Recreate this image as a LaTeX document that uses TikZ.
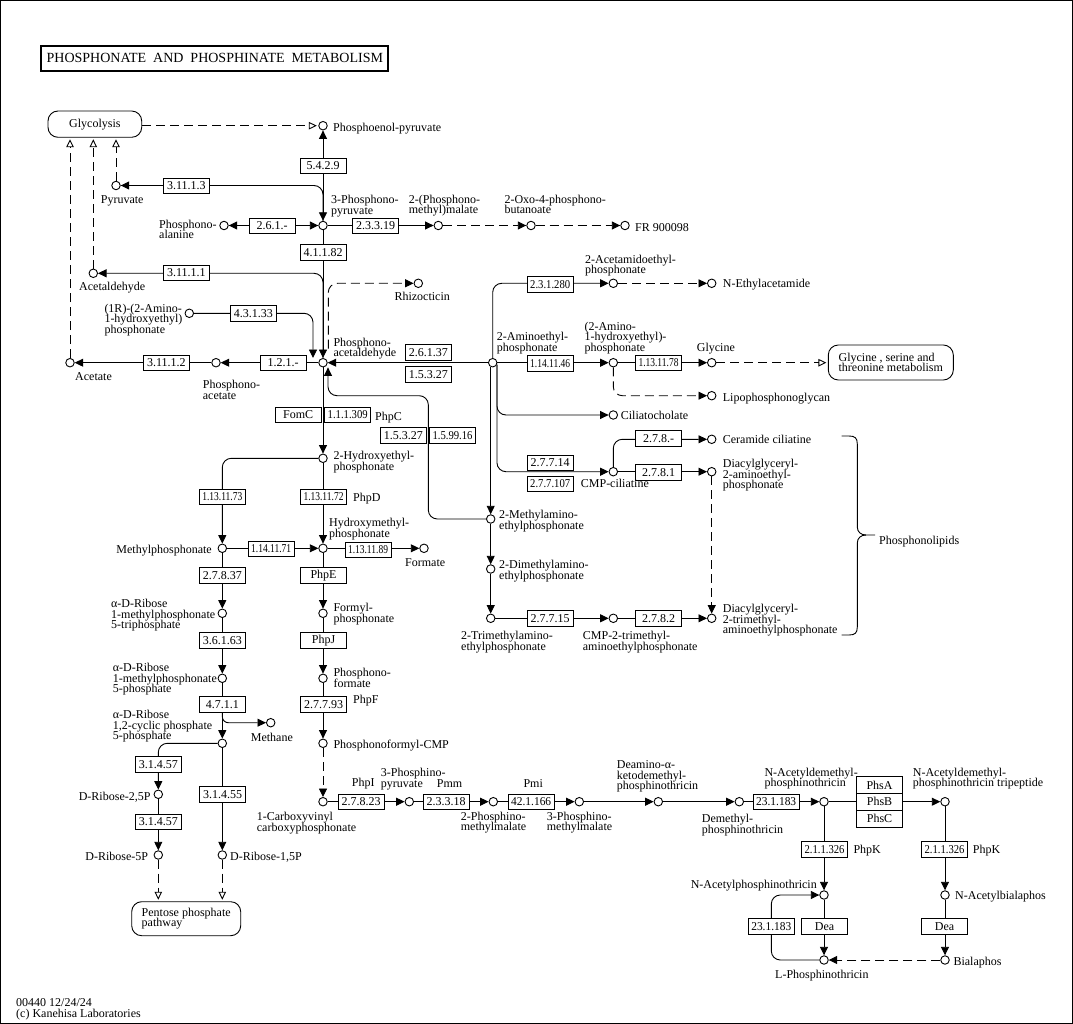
\documentclass[tikz,border=0pt]{standalone}
\usepackage{fontspec}
\setmainfont{Liberation Serif}
\usepackage{graphicx}
\usetikzlibrary{arrows.meta,calc}
\pgfdeclarelayer{bg}
\pgfsetlayers{bg,main}
\newsavebox\ecbx
\newlength\echt
\newcommand\ecx[1]{\sbox\ecbx{#1}\setlength\echt{\ht\ecbx}\ifdim\wd\ecbx>40pt\resizebox{40pt}{\echt}{#1}\else\usebox\ecbx\fi}
\newcommand\lfont{\fontsize{12}{10.5}\selectfont\lineskiplimit=-6pt\lineskip=0pt}
\tikzset{
 cpd/.style={circle,draw,line width=0.9pt,minimum size=8.5pt,inner sep=0pt,fill=white},
 ecbox/.style={draw,line width=0.8pt,minimum width=46pt,minimum height=15.5pt,inner sep=0pt,fill=white,font=\fontsize{12}{12}\selectfont},
 ln/.style={line width=0.9pt},
 arr/.style={ln,-{Triangle[length=8.5pt,width=8pt]}},
 arrb/.style={ln,{Triangle[length=8.5pt,width=8pt]}-{Triangle[length=8.5pt,width=8pt]}},
 oarr/.style={ln,-{Triangle[open,length=8pt,width=7.5pt]},shorten >=1.5pt},
 dsh/.style={dash pattern=on 9pt off 5pt},
 rc/.style={rounded corners=9pt},
 lab/.style={inner sep=0pt,align=left,anchor=north west,font=\lfont},
 labr/.style={inner sep=0pt,align=right,anchor=north east,font=\lfont},
 mapbox/.style={draw,line width=0.9pt,rounded corners=10pt,inner sep=0pt,font=\lfont,align=left},
}
\newcount\labn
\newcommand\lab[3]{\global\advance\labn by 1\relax\node[lab] (lab\the\labn) at (#1,{#2-9}) {\rule{0pt}{9pt}#3};}
\newcommand\labr[3]{\global\advance\labn by 1\relax\node[labr] (lab\the\labn) at (#1,{#2-9}) {\rule{0pt}{9pt}#3};}
\newcommand\cpd[3]{\node[cpd] (#1) at (#2,#3) {};}
\newcommand\ec[4]{\node[ecbox] (#1) at (#2,#3) {\ecx{#4}};}
\begin{document}
\begin{tikzpicture}[x=1pt,y=-1pt]
\useasboundingbox (0,0) rectangle (1073,1024);
\draw[line width=1.3pt] (0.65,0.65) rectangle (1072.3,1023.35);
\node[draw,line width=2pt,minimum width=347pt,minimum height=24.5pt,inner sep=0pt,font=\fontsize{14}{14}\selectfont] (title) at (214.85,58.35) {PHOSPHONATE\ \ AND\ \ PHOSPHINATE\ \ METABOLISM};
% map boxes
\node[mapbox,minimum width=93.7pt,minimum height=26.3pt,align=center] (glyc) at (94.85,124.15) {Glycolysis};
\node[mapbox,minimum width=125pt,minimum height=35pt] (gsm) at (890.8,362.5) {Glycine , serine and\\threonine metabolism};
\node[mapbox,minimum width=109pt,minimum height=34pt] (ppp) at (186.2,918.7) {Pentose phosphate\\pathway};
% compounds
\cpd{pep}{323}{125.7}
\cpd{pyr}{116}{185.5}
\cpd{pp3}{323}{225.5}
\cpd{pala}{224}{225.5}
\cpd{pmm}{438.3}{225.5}
\cpd{opb}{531}{225.5}
\cpd{fr}{625}{225.5}
\cpd{acald}{93.3}{273.3}
\cpd{ahp}{189.3}{313.3}
\cpd{paa}{323}{362.7}
\cpd{pac}{216}{362.7}
\cpd{acet}{70}{362.7}
\cpd{rhiz}{418.3}{283.3}
\cpd{aep}{492.7}{362.7}
\cpd{acam}{613.3}{283.3}
\cpd{neth}{711.7}{283.3}
\cpd{ahep}{613.3}{362.7}
\cpd{gly}{711.7}{362.7}
\cpd{lipo}{711.7}{395.7}
\cpd{cilc}{613.3}{415}
\cpd{cmpc}{613.3}{471.7}
\cpd{cerc}{711.7}{439.3}
\cpd{dagae}{711.7}{471.7}
\cpd{dagtm}{711.7}{618.3}
\cpd{mae}{490.7}{519}
\cpd{dmae}{490.7}{569}
\cpd{tmae}{490.7}{618.3}
\cpd{cmptm}{613.3}{618.3}
\cpd{hep}{323}{458.3}
\cpd{mp}{222.3}{548.3}
\cpd{hmp}{323}{548.3}
\cpd{form}{424}{548.3}
\cpd{rtp}{222.3}{613.3}
\cpd{rmp}{222.3}{678.3}
\cpd{rcp}{222.3}{743.3}
\cpd{meth}{270.7}{722.7}
\cpd{rtwo}{158.3}{794.3}
\cpd{rfive}{158.3}{855}
\cpd{rone}{222.3}{855}
\cpd{fp}{323}{613.3}
\cpd{pf}{323}{678.3}
\cpd{pfc}{323}{743.3}
\cpd{ccp}{323}{801.7}
\cpd{ppy}{409.3}{801.7}
\cpd{ptwo}{493.3}{801.7}
\cpd{pthree}{579.3}{801.7}
\cpd{dak}{658.3}{801.7}
\cpd{dpt}{739.3}{801.7}
\cpd{nadpt}{824}{801.7}
\cpd{nadtp}{945}{801.7}
\cpd{napt}{824}{895}
\cpd{nab}{945}{895}
\cpd{lpt}{824}{960}
\cpd{bial}{945}{960}
% enzymes
\ec{e5429}{323}{165.8}{5.4.2.9}
\ec{e31113}{186.3}{185.8}{3.11.1.3}
\ec{e261}{272.2}{225.7}{2.6.1.-}
\ec{e23319}{375.5}{225.8}{2.3.3.19}
\ec{e41182}{323}{252.5}{4.1.1.82}
\ec{e31111}{186.3}{273}{3.11.1.1}
\ec{e43133}{253.3}{313.5}{4.3.1.33}
\ec{e121}{283}{362.8}{1.2.1.-}
\ec{e31112}{166.3}{362.7}{3.11.1.2}
\ec{e26137}{428.3}{352.5}{2.6.1.37}
\ec{e15327a}{428.3}{374.2}{1.5.3.27}
\ec{e231280}{550.2}{284.2}{2.3.1.280}
\ec{e1141146}{550.2}{363.3}{1.14.11.46}
\ec{e1131178}{658.5}{362.7}{1.13.11.78}
\ec{e278x}{658.5}{438.3}{2.7.8.-}
\ec{e2781}{658.5}{472.5}{2.7.8.1}
\ec{e27714}{550.2}{463}{2.7.7.14}
\ec{e277107}{550.2}{483.7}{2.7.7.107}
\ec{e15327b}{403.3}{435.5}{1.5.3.27}
\ec{e159916}{452.5}{435.5}{1.5.99.16}
\ec{efomc}{298.2}{415}{FomC}
\ec{e111309}{347.7}{415}{1.1.1.309}
\ec{e1131173}{222.3}{497}{1.13.11.73}
\ec{e1131172}{323.5}{497}{1.13.11.72}
\ec{e1141171}{271.2}{548.7}{1.14.11.71}
\ec{e1131189}{368}{550}{1.13.11.89}
\ec{e27837}{222.3}{575.5}{2.7.8.37}
\ec{ephpe}{323.5}{575.5}{PhpE}
\ec{e36163}{222.3}{640.5}{3.6.1.63}
\ec{ephpj}{323.5}{640.5}{PhpJ}
\ec{e4711}{222.3}{704.5}{4.7.1.1}
\ec{e27793}{323.5}{704.5}{2.7.7.93}
\ec{e31457a}{158.3}{764.2}{3.1.4.57}
\ec{e31455}{222.7}{794.5}{3.1.4.55}
\ec{e31457b}{158.3}{822}{3.1.4.57}
\ec{e27823}{361}{802}{2.7.8.23}
\ec{e23318}{446.2}{802}{2.3.3.18}
\ec{e421166}{531.2}{802}{42.1.166}
\ec{e231183a}{776.2}{802}{23.1.183}
\ec{e211326a}{824.5}{849.5}{2.1.1.326}
\ec{e211326b}{944.5}{849.5}{2.1.1.326}
\ec{edeaa}{824.5}{926.2}{Dea}
\ec{edeab}{944.5}{926.2}{Dea}
\ec{e231183b}{771.3}{926.2}{23.1.183}
\ec{e27715}{550}{618.5}{2.7.7.15}
\ec{e2782}{658.5}{618.5}{2.7.8.2}
\node[ecbox,minimum height=16.7pt] (phsa) at (879.5,785) {PhsA};
\node[ecbox,minimum height=16.7pt] (phsb) at (879.5,801.7) {PhsB};
\node[ecbox,minimum height=16.7pt] (phsc) at (879.5,818.6) {PhsC};
% connectors
\begin{pgfonlayer}{bg}
\draw[dsh,oarr] (glyc.east |- pep) -- (pep);
\draw[dsh,oarr] (pyr) -- (pyr |- glyc.south);
\draw[dsh,oarr] (acald) -- (acald |- glyc.south);
\draw[dsh,oarr] (acet) -- (acet |- glyc.south);
\draw[arrb] (pp3) -- (pep);
\draw[arr,rc] (pp3) |- (pyr);
\draw[arrb] (pp3) -- (pala);
\draw[arr] (pp3) -- (pmm);
\draw[dsh,arr] (pmm) -- (opb);
\draw[dsh,arr] (opb) -- (fr);
\draw[arr] (pp3) -- (paa);
\draw[arr,rc] (paa) |- (acald);
\draw[arr,rc] (ahp) -| ([xshift=-10pt]paa.north);
\draw[arr] (paa) -- (pac);
\draw[arr] (pac) -- (acet);
\draw[dsh,arr,rc] ($(paa)+(5.3,-14)$) |- (rhiz);
\draw[arr] (aep) -- (paa);
\coordinate (k1) at (428.3,395.7);
\draw[arr,rc] (mae) -| (k1) -| ([xshift=5pt]paa.south);
\draw[arr,rc] (aep) |- (acam);
\draw[dsh,arr] (acam) -- (neth);
\draw[arr] (aep) -- (ahep);
\draw[arr] (ahep) -- (gly);
\draw[dsh,oarr] (gly) -- (gly -| gsm.west);
\draw[dsh,arr,rc] (ahep) |- (lipo);
\draw[arr,rc] (aep.-25) |- (cilc);
\draw[arr,rc] (aep.-25) |- (cmpc);
\draw[arr,rc] (cmpc) |- (cerc);
\draw[arr] (cmpc) -- (dagae);
\draw[dsh,arr] (dagae) -- (dagtm);
\draw[arr] ([xshift=-2pt]aep.south) -- (mae);
\draw[arr] (mae) -- (dmae);
\draw[arr] (dmae) -- (tmae);
\draw[arr] (tmae) -- (cmptm);
\draw[arr] (cmptm) -- (dagtm);
\draw[arr] (paa) -- (hep);
\draw[arr,rc] (hep) -| (mp);
\draw[arr] (hep) -- (hmp);
\draw[arr] (mp) -- (hmp);
\draw[arr] (hmp) -- (form);
\draw[arr] (mp) -- (rtp);
\draw[arr] (rtp) -- (rmp);
\draw[arr] (rmp) -- (rcp);
\draw[arr,rounded corners=6pt] (e4711.south) |- (meth);
\draw[arr,rc] (rcp) -| (rtwo);
\draw[arr] (rtwo) -- (rfive);
\draw[arr] (rcp) -- (rone);
\draw[dsh,oarr] (rfive) -- (rfive |- ppp.north);
\draw[dsh,oarr] (rone) -- (rone |- ppp.north);
\draw[arr] (hmp) -- (fp);
\draw[arr] (fp) -- (pf);
\draw[arr] (pf) -- (pfc);
\draw[dsh,arr] (pfc) -- (ccp);
\draw[arr] (ccp) -- (ppy);
\draw[arr] (ppy) -- (ptwo);
\draw[arr] (ptwo) -- (pthree);
\draw[arr] (pthree) -- (dak);
\draw[arr] (dak) -- (dpt);
\draw[arr] (dpt) -- (nadpt);
\draw[arr] (nadpt) -- (nadtp);
\draw[arr] (nadpt) -- (napt);
\draw[arr] (nadtp) -- (nab);
\draw[arr] (napt) -- (lpt);
\draw[arr] (nab) -- (bial);
\draw[dsh,arr] (bial) -- (lpt);
\draw[arr,rc] (lpt) -| (e231183b.center) |- (napt);
\end{pgfonlayer}
% brace
\draw[ln] (841.7,436) -- (849,436) .. controls (855,436) and (857.3,438) .. (857.3,444) -- (857.3,527) .. controls (857.3,532) and (861,535) .. (866,535) -- (875,535);
\draw[ln] (866,535) .. controls (861,535) and (857.3,538) .. (857.3,543) -- (857.3,627) .. controls (857.3,633) and (855,635) .. (849,635) -- (841.7,635);
% labels
\lab{333}{131}{Phosphoenol-pyruvate}
\lab{100.7}{203}{Pyruvate}
\lab{331}{203.5}{3-Phosphono-\\pyruvate}
\lab{159}{228}{Phosphono-\\alanine}
\lab{408.7}{203.3}{2-(Phosphono-\\methyl)malate}
\lab{504.3}{203.3}{2-Oxo-4-phosphono-\\butanoate}
\lab{635}{231}{FR 900098}
\lab{79}{290.7}{Acetaldehyde}
\lab{104.3}{312}{(1R)-(2-Amino-\\1-hydroxyethyl)\\phosphonate}
\lab{333.3}{346}{Phosphono-\\acetaldehyde}
\lab{202.7}{388.3}{Phosphono-\\acetate}
\lab{75}{380}{Acetate}
\lab{394.3}{300}{Rhizocticin}
\lab{496.7}{340.7}{2-Aminoethyl-\\phosphonate}
\lab{585}{263.3}{2-Acetamidoethyl-\\phosphonate}
\lab{722.7}{287.3}{N-Ethylacetamide}
\lab{584.3}{330}{(2-Amino-\\1-hydroxyethyl)-\\phosphonate}
\lab{696.7}{351.7}{Glycine}
\lab{722.7}{401.7}{Lipophosphonoglycan}
\lab{620.7}{419.5}{Ciliatocholate}
\lab{580.7}{487}{CMP-ciliatine}
\lab{722.7}{443.3}{Ceramide ciliatine}
\lab{722.7}{467.7}{Diacylglyceryl-\\2-aminoethyl-\\phosphonate}
\lab{722.7}{612.7}{Diacylglyceryl-\\2-trimethyl-\\aminoethylphosphonate}
\lab{879}{544.3}{Phosphonolipids}
\lab{375}{420}{PhpC}
\lab{333.3}{459.3}{2-Hydroxyethyl-\\phosphonate}
\lab{353}{501.7}{PhpD}
\labr{212}{553.3}{Methylphosphonate}
\lab{329}{526.5}{Hydroxymethyl-\\phosphonate}
\lab{405}{566.7}{Formate}
\lab{499}{518.3}{2-Methylamino-\\ethylphosphonate}
\lab{499}{568.3}{2-Dimethylamino-\\ethylphosphonate}
\lab{461}{639.3}{2-Trimethylamino-\\ethylphosphonate}
\lab{582.7}{639.3}{CMP-2-trimethyl-\\aminoethylphosphonate}
\lab{111}{607.7}{α-D-Ribose\\1-methylphosphonate\\5-triphosphate}
\lab{112.7}{671.7}{α-D-Ribose\\1-methylphosphonate\\5-phosphate}
\lab{112.7}{718.3}{α-D-Ribose\\1,2-cyclic phosphate\\5-phosphate}
\lab{333.3}{611.7}{Formyl-\\phosphonate}
\lab{333.3}{676.7}{Phosphono-\\formate}
\lab{353}{703.3}{PhpF}
\lab{250.7}{741.7}{Methane}
\lab{333.3}{748.3}{Phosphonoformyl-CMP}
\labr{150.7}{800}{D-Ribose-2,5P}
\labr{148.3}{860}{D-Ribose-5P}
\lab{230}{860}{D-Ribose-1,5P}
\lab{256.7}{820.7}{1-Carboxyvinyl\\carboxyphosphonate}
\lab{351.7}{786.7}{PhpI}
\lab{380.7}{776.7}{3-Phosphino-\\pyruvate}
\lab{436.7}{787.3}{Pmm}
\lab{460.7}{820}{2-Phosphino-\\methylmalate}
\lab{523.3}{787.3}{Pmi}
\lab{546.7}{820}{3-Phosphino-\\methylmalate}
\lab{616.7}{768.3}{Deamino-α-\\ketodemethyl-\\phosphinothricin}
\lab{701.7}{822.7}{Demethyl-\\phosphinothricin}
\lab{764.3}{776}{N-Acetyldemethyl-\\phosphinothricin}
\lab{912.7}{776}{N-Acetyldemethyl-\\phosphinothricin tripeptide}
\lab{853.3}{853.3}{PhpK}
\lab{972.7}{853.3}{PhpK}
\labr{817}{888}{N-Acetylphosphinothricin}
\lab{955}{899.3}{N-Acetylbialaphos}
\lab{775}{978.3}{L-Phosphinothricin}
\lab{953.3}{965}{Bialaphos}
\lab{16}{1006.7}{00440 12/24/24\\(c) Kanehisa Laboratories}
\end{tikzpicture}
\end{document}
